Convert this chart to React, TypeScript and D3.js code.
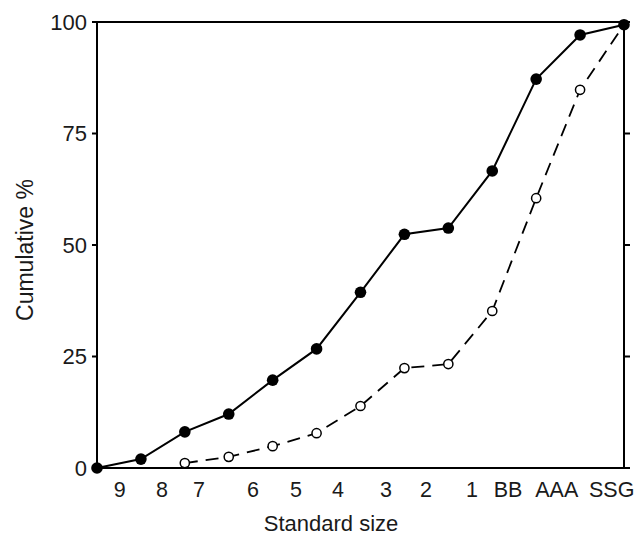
import React from "react";
import * as d3 from "d3";

const sizeLabels = ["9", "8", "7", "6", "5", "4", "3", "2", "1", "BB", "AAA", "SSG"];
// where each size label sits along the boundary-index axis
const labelAt = [0.52, 1.48, 2.32, 3.55, 4.53, 5.49, 6.58, 7.49, 8.54, 9.36, 10.47, 11.72];
const yTicks = [0, 25, 50, 75, 100];
// cumulative % at boundaries (index 0..12)
const solidIdx = [0, 1, 2, 3, 4, 5, 6, 7, 8, 9, 10, 11, 12];
const solidVals = [0, 2.0, 8.1, 12.1, 19.7, 26.7, 39.4, 52.4, 53.8, 66.6, 87.2, 97.1, 99.4];
const openIdx = [2, 3, 4, 5, 6, 7, 8, 9, 10, 11, 12];
const openVals = [1.1, 2.5, 4.9, 7.8, 13.9, 22.4, 23.3, 35.2, 60.5, 84.8, 99.4];

const W = 641, H = 538;
const L = 97, R = 624, T = 22, B = 468;

export default function App() {
  const x = d3.scaleLinear().domain([0, 12]).range([L, R]);
  const y = d3.scaleLinear().domain([0, 100]).range([B, T]);
  const solid = solidIdx.map((i, k) => [i, solidVals[k]] as [number, number]);
  const open = openIdx.map((i, k) => [i, openVals[k]] as [number, number]);
  const line = d3.line<[number, number]>().x(d => x(d[0])).y(d => y(d[1]));
  const font = "'Liberation Sans', Arial, sans-serif";
  const ink = "#1a1a1a";
  return (
    <svg width={W} height={H} style={{ position: "absolute", left: 0, top: 0, background: "#fff" }}>
      <rect x={L} y={T} width={R - L} height={B - T} fill="none" stroke="#000" strokeWidth={2} />
      {yTicks.map(t => (
        <g key={t}>
          <line x1={L - 5} x2={L} y1={y(t)} y2={y(t)} stroke="#000" strokeWidth={2} />
          <line x1={R} x2={R + 6} y1={y(t)} y2={y(t)} stroke="#000" strokeWidth={2} />
          <text x={L - 10} y={y(t)} dy="0.36em" textAnchor="end" fontFamily={font} fontSize={22} fill={ink}>{t}</text>
        </g>
      ))}
      {sizeLabels.map((s, i) => (
        <text key={s} x={x(labelAt[i])} y={497} textAnchor="middle" fontFamily={font} fontSize={21.5} fill={ink}>{s}</text>
      ))}
      <text x={331} y={531} textAnchor="middle" fontFamily={font} fontSize={22} fill={ink}>Standard size</text>
      <text transform={`translate(33,250) rotate(-90)`} textAnchor="middle" fontFamily={font} fontSize={23} fill={ink}>Cumulative %</text>
      <path d={line(open) || ""} fill="none" stroke="#000" strokeWidth={1.8} strokeDasharray="13,8" />
      <path d={line(solid) || ""} fill="none" stroke="#000" strokeWidth={2} />
      {open.slice(0, -1).map((d, i) => (
        <circle key={i} cx={x(d[0])} cy={y(d[1])} r={4.6} fill="#fff" stroke="#000" strokeWidth={1.5} />
      ))}
      {solid.map((d, i) => (
        <circle key={i} cx={x(d[0])} cy={y(d[1])} r={5.8} fill="#000" />
      ))}
    </svg>
  );
}
